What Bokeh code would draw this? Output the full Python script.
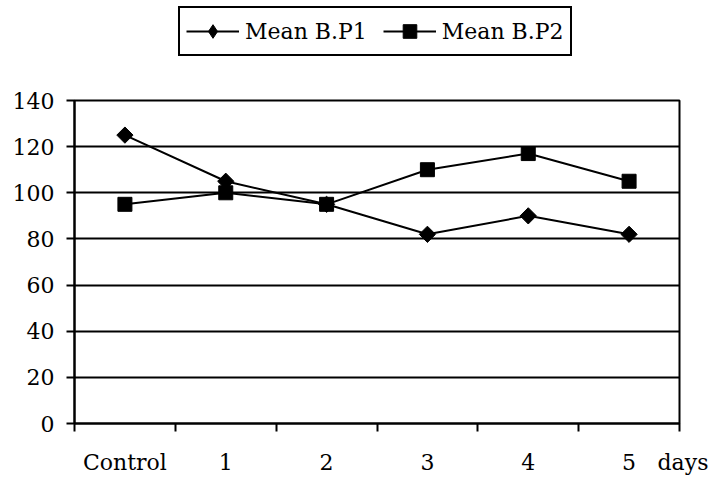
import math
from bokeh.plotting import figure
from bokeh.layouts import column
from bokeh.models import FixedTicker, Legend, LegendItem, Range1d
from bokeh.embed import file_html
from bokeh.resources import INLINE

categories = ["Control", "1", "2", "3", "4", "5"]
x_unit_label = "days"
series_names = ["Mean B.P1", "Mean B.P2"]
mean_bp1 = [125, 105, 95, 82, 90, 82]
mean_bp2 = [95, 100, 95, 110, 117, 105]
y_ticks = [0, 20, 40, 60, 80, 100, 120, 140]

xs = [i + 0.5 for i in range(len(categories))]
bounds = list(range(len(categories) + 1))

FONT = "DejaVu Serif"
FSIZE = "22px"

# ---------- main chart ----------
p = figure(width=712, height=400, output_backend="svg", toolbar_location=None,
           x_range=Range1d(0, len(categories)), y_range=Range1d(0, 140),
           min_border_left=74, min_border_right=33, min_border_top=20, min_border_bottom=57)
p.background_fill_color = "white"
p.border_fill_color = "white"
p.outline_line_color = "black"
p.outline_line_width = 2
p.outline_line_alpha = 1

p.xgrid.visible = False
p.ygrid.grid_line_color = "black"
p.ygrid.grid_line_width = 2
p.ygrid.ticker = FixedTicker(ticks=y_ticks)

p.yaxis.ticker = FixedTicker(ticks=y_ticks)
p.yaxis.axis_line_width = 2
p.yaxis.major_tick_line_width = 2
p.yaxis.major_tick_out = 8
p.yaxis.major_tick_in = 0
p.yaxis.minor_tick_line_color = None
p.yaxis.major_label_text_font = FONT
p.yaxis.major_label_text_font_size = FSIZE
p.yaxis.major_label_standoff = 12
p.yaxis.major_label_text_color = "black"

label_ticks = xs + [len(categories)]
overrides = {x: c for x, c in zip(xs, categories)}
overrides[len(categories)] = "\u00a0" + x_unit_label
p.xaxis.ticker = FixedTicker(ticks=label_ticks, minor_ticks=bounds)
p.xaxis.major_label_overrides = overrides
p.xaxis.major_tick_line_color = None
p.xaxis.major_tick_out = 8
p.xaxis.major_tick_in = 0
p.xaxis.minor_tick_line_color = "black"
p.xaxis.minor_tick_line_width = 2
p.xaxis.minor_tick_out = 8
p.xaxis.minor_tick_in = 0
p.xaxis.axis_line_width = 2
p.xaxis.major_label_text_font = FONT
p.xaxis.major_label_text_font_size = FSIZE
p.xaxis.major_label_standoff = 18
p.xaxis.major_label_text_color = "black"

p.line(xs, mean_bp1, line_color="black", line_width=2)
p.scatter(xs, mean_bp1, marker="square", angle=math.pi / 4, size=11.5,
          fill_color="black", line_color="black")
p.line(xs, mean_bp2, line_color="black", line_width=2)
p.scatter(xs, mean_bp2, marker="square", size=14, fill_color="black", line_color="black")

# ---------- legend strip (same series, kept out of view; only the legend shows) ----------
lg = figure(width=712, height=80, output_backend="svg", toolbar_location=None,
            x_axis_type=None, y_axis_type=None,
            x_range=Range1d(0, len(categories)), y_range=Range1d(1000, 1001),
            min_border_left=0, min_border_right=0, min_border_top=0, min_border_bottom=0)
lg.outline_line_color = None
lg.xgrid.visible = False
lg.ygrid.visible = False
lg.background_fill_color = "white"
lg.border_fill_color = "white"

r1l = lg.line(xs, mean_bp1, line_color="black", line_width=2)
r1m = lg.scatter(xs, mean_bp1, marker="diamond", fill_color="black", line_color="black")
r2l = lg.line(xs, mean_bp2, line_color="black", line_width=2)
r2m = lg.scatter(xs, mean_bp2, marker="square", fill_color="black", line_color="black")

legend = Legend(items=[LegendItem(label=series_names[0], renderers=[r1l, r1m]),
                       LegendItem(label=series_names[1], renderers=[r2l, r2m])],
                orientation="horizontal", location=(104, 24),
                border_line_color="black", border_line_width=2, border_line_alpha=1,
                label_text_font=FONT, label_text_font_size=FSIZE, label_text_color="black",
                glyph_width=53, glyph_height=34, label_height=32,
                spacing=16, padding=6, margin=0,
                label_standoff=6, background_fill_color="white", background_fill_alpha=1)
lg.add_layout(legend, "center")

layout = column(lg, p, spacing=0)
open("out.html", "w").write(file_html(layout, INLINE))
